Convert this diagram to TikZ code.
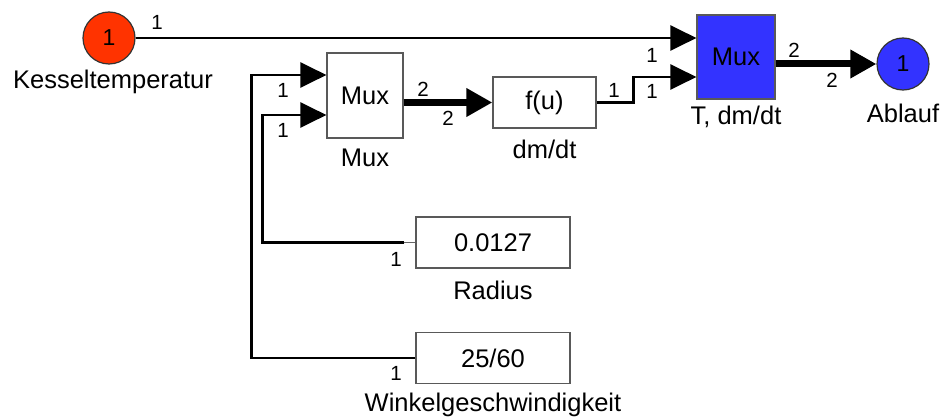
\documentclass[tikz,border=0pt]{standalone}
\usepackage{fontspec}
\setmainfont{Liberation Sans}
\usetikzlibrary{arrows.meta,calc}

\definecolor{inred}{RGB}{255,51,0}
\definecolor{outblue}{RGB}{51,51,255}

\tikzset{
  block/.style={draw=black!65, line width=1.2pt, inner sep=0pt, font=\fontsize{25.5}{30}\selectfont},
  port/.style={circle, draw=black!80, line width=1.2pt, minimum size=52pt, inner sep=0pt, font=\fontsize{23}{27}\selectfont},
  caption/.style={font=\fontsize{25.5}{30}\selectfont},
  num/.style={font=\fontsize{20.5}{24}\selectfont, inner sep=0pt},
  sig/.style={line width=2.5pt, -{Triangle[length=26pt 0 0, width=25pt 0 0]}},
  bus/.style={line width=7pt, -{Triangle[length=26pt 0 0, width=27pt 0 0]}},
}

\begin{document}
\begin{tikzpicture}[x=1pt, y=-1pt]
		\useasboundingbox (0,0) rectangle (944,417);
		% blocks
		\node[port, fill=inred] (kessel) at (109,38) {1};
		\node[caption] (kessellbl) at (113,82) {Kesseltemperatur};
		\node[block, minimum width=76pt, minimum height=85pt] (mux) at (365,95.5) {Mux};
		\node[caption] (muxlbl) at (365,158) {Mux};
		\node[block, minimum width=103pt, minimum height=51pt] (fu) at (544.5,102.5) {f(u)};
		\node[caption] (fulbl) at (544.5,149) {dm/dt};
		\node[block, fill=outblue, minimum width=78pt, minimum height=84pt] (muxout) at (736,57) {Mux};
		\node[caption] (muxoutlbl) at (736,117) {T, dm/dt};
		\node[port, fill=outblue] (ablauf) at (903,64) {1};
		\node[caption] (ablauflbl) at (903,113) {Ablauf};
		\node[block, minimum width=154pt, minimum height=51pt] (radius) at (493,242.5) {0.0127};
		\node[caption] (radiuslbl) at (493,290) {Radius};
		\node[block, minimum width=154pt, minimum height=51pt] (winkel) at (493,358) {25/60};
		\node[caption] (winkellbl) at (493,405) {Winkelgeschwindigkeit};
		% input ports
		\coordinate (muxin1) at ($(mux.west)+(0,-20.5)$);
		\coordinate (muxin2) at ($(mux.west)+(0,19.5)$);
		\coordinate (outin1) at ($(muxout.west)+(0,-19)$);
		\coordinate (outin2) at ($(muxout.west)+(0,20)$);
		% signals
		\draw[sig] (kessel.east) -- (outin1);
		\draw[bus] (fu.west -| mux.east) -- (fu.west);
		\draw[sig] (fu.east) -- ++(37,0) |- (outin2);
		\draw[bus] (ablauf.west -| muxout.east) -- (ablauf.west);
		\draw[black!60, line width=1pt] (radius.west) -- ++(-11,0) coordinate (radstub);
		\draw[sig] (radstub) -- ++(-142,0) |- (muxin2);
		\draw[sig] (winkel.west) -- ++(-164,0) |- (muxin1);
		% port widths
		\node[num] (w1) at (157,22) {1};
		\node[num] (w2) at (283,90) {1};
		\node[num] (w3) at (283,130) {1};
		\node[num] (w4) at (423,89) {2};
		\node[num] (w5) at (448,118) {2};
		\node[num] (w6) at (614,90) {1};
		\node[num] (w7) at (652,55) {1};
		\node[num] (w8) at (652,91) {1};
		\node[num] (w9) at (794,50) {2};
		\node[num] (w10) at (832,80) {2};
		\node[num] (w11) at (396,259) {1};
		\node[num] (w12) at (396,373) {1};
	\end{tikzpicture}
\end{document}
